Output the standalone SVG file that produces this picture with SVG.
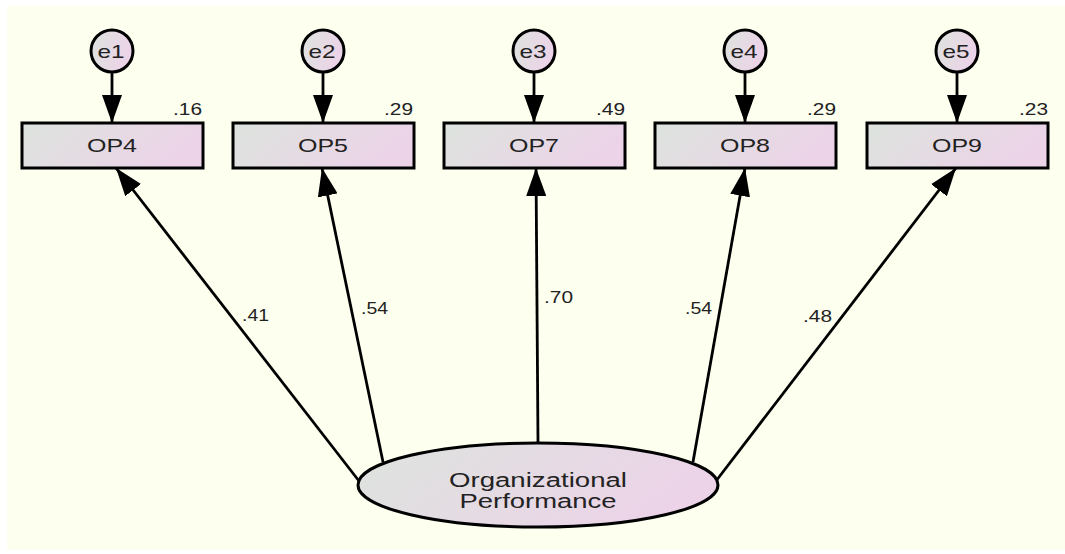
<svg xmlns="http://www.w3.org/2000/svg" width="1065" height="554" viewBox="0 0 1065 554">
  <defs>
    <linearGradient id="fillGrad" x1="0" y1="0" x2="1" y2="0.3">
      <stop offset="0" stop-color="#dde4de"/>
      <stop offset="1" stop-color="#ecd3e8"/>
    </linearGradient>
    <marker id="arrow" viewBox="0 0 28 20" refX="28" refY="10" markerWidth="28" markerHeight="20" markerUnits="userSpaceOnUse" orient="auto">
      <path d="M0,0 L28,10 L0,20 Z" fill="#000"/>
    </marker>
    <style>
      .shape { fill: url(#fillGrad); stroke: #000; stroke-width: 3; }
      .lbl { font-family: "Liberation Sans", Arial, sans-serif; font-size: 19px; fill: #222; text-anchor: middle; }
      .big { font-family: "Liberation Sans", Arial, sans-serif; font-size: 20px; fill: #222; text-anchor: middle; }
      .num { font-family: "Liberation Sans", Arial, sans-serif; font-size: 16.5px; fill: #222; }
      .edge { stroke: #000; stroke-width: 2.8; fill: none; marker-end: url(#arrow); }
    </style>
  </defs>

  <rect x="7" y="6" width="1058" height="544" fill="#fdffef"/>

  <!-- paths: errors to indicators, factor to indicators -->
  <g id="connectors">
    <line class="edge" x1="112" y1="72" x2="112" y2="123"/>
    <line class="edge" x1="323" y1="72" x2="323" y2="123"/>
    <line class="edge" x1="534" y1="72" x2="534" y2="123"/>
    <line class="edge" x1="745" y1="72" x2="745" y2="123"/>
    <line class="edge" x1="957" y1="72" x2="957" y2="123"/>

    <line class="edge" x1="359" y1="481" x2="116" y2="168"/>
    <line class="edge" x1="383" y1="462" x2="322" y2="168"/>
    <line class="edge" x1="538" y1="443" x2="536" y2="168"/>
    <line class="edge" x1="693" y1="462" x2="745" y2="168"/>
    <line class="edge" x1="716" y1="481" x2="956" y2="168"/>

    <text class="num" x="242" y="321" textLength="27" lengthAdjust="spacingAndGlyphs">.41</text>
    <text class="num" x="361" y="314" textLength="27" lengthAdjust="spacingAndGlyphs">.54</text>
    <text class="num" x="544" y="303" textLength="29" lengthAdjust="spacingAndGlyphs">.70</text>
    <text class="num" x="685" y="314" textLength="27" lengthAdjust="spacingAndGlyphs">.54</text>
    <text class="num" x="803" y="322" textLength="29" lengthAdjust="spacingAndGlyphs">.48</text>
  </g>

  <g id="e1"><ellipse class="shape" cx="112" cy="51" rx="21" ry="21"/><text class="lbl" x="111" y="58" textLength="27" lengthAdjust="spacingAndGlyphs">e1</text></g>
  <g id="e2"><ellipse class="shape" cx="323" cy="51" rx="21" ry="21"/><text class="lbl" x="322" y="58" textLength="27" lengthAdjust="spacingAndGlyphs">e2</text></g>
  <g id="e3"><ellipse class="shape" cx="534" cy="51" rx="21" ry="21"/><text class="lbl" x="533" y="58" textLength="27" lengthAdjust="spacingAndGlyphs">e3</text></g>
  <g id="e4"><ellipse class="shape" cx="745" cy="51" rx="21" ry="21"/><text class="lbl" x="744" y="58" textLength="27" lengthAdjust="spacingAndGlyphs">e4</text></g>
  <g id="e5"><ellipse class="shape" cx="957" cy="51" rx="21" ry="21"/><text class="lbl" x="956" y="58" textLength="27" lengthAdjust="spacingAndGlyphs">e5</text></g>

  <g id="OP4"><rect class="shape" x="22" y="123" width="181" height="45"/><text class="lbl" x="112" y="152" textLength="50" lengthAdjust="spacingAndGlyphs">OP4</text><text class="num" x="173" y="115" textLength="29" lengthAdjust="spacingAndGlyphs">.16</text></g>
  <g id="OP5"><rect class="shape" x="233" y="123" width="181" height="45"/><text class="lbl" x="323" y="152" textLength="50" lengthAdjust="spacingAndGlyphs">OP5</text><text class="num" x="384" y="115" textLength="29" lengthAdjust="spacingAndGlyphs">.29</text></g>
  <g id="OP7"><rect class="shape" x="444" y="123" width="181" height="45"/><text class="lbl" x="534" y="152" textLength="50" lengthAdjust="spacingAndGlyphs">OP7</text><text class="num" x="596" y="115" textLength="29" lengthAdjust="spacingAndGlyphs">.49</text></g>
  <g id="OP8"><rect class="shape" x="655" y="123" width="181" height="45"/><text class="lbl" x="745" y="152" textLength="50" lengthAdjust="spacingAndGlyphs">OP8</text><text class="num" x="807" y="115" textLength="29" lengthAdjust="spacingAndGlyphs">.29</text></g>
  <g id="OP9"><rect class="shape" x="867" y="123" width="181" height="45"/><text class="lbl" x="957" y="152" textLength="50" lengthAdjust="spacingAndGlyphs">OP9</text><text class="num" x="1019" y="115" textLength="29" lengthAdjust="spacingAndGlyphs">.23</text></g>

  <g id="OrganizationalPerformance">
    <ellipse class="shape" cx="538" cy="485" rx="180" ry="42"/>
    <text class="big" x="538" y="487" textLength="178" lengthAdjust="spacingAndGlyphs">Organizational</text>
    <text class="big" x="538" y="508" textLength="157" lengthAdjust="spacingAndGlyphs">Performance</text>
  </g>
</svg>
